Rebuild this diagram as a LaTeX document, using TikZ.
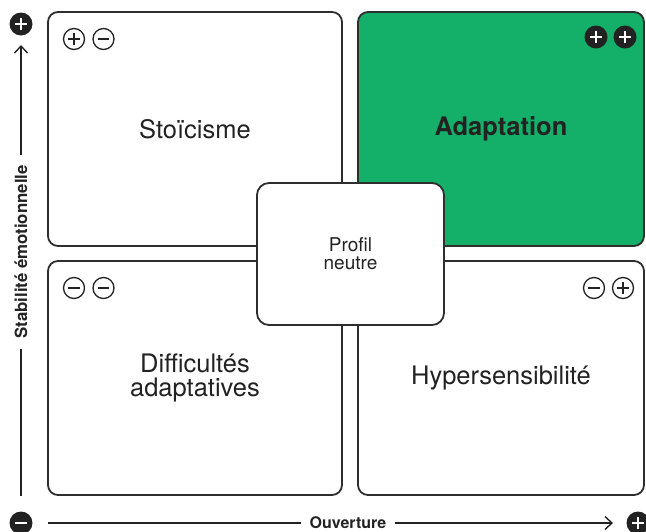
\documentclass[tikz,border=0pt]{standalone}
\usepackage{fontspec}
\setmainfont{TeX Gyre Heros}
\usetikzlibrary{arrows.meta}
\definecolor{ink}{HTML}{222222}
\definecolor{edge}{HTML}{2E2E2E}
\definecolor{leaf}{RGB}{20,175,105}
\begin{document}
\begin{tikzpicture}[x=1pt,y=-1pt,
 quad/.style={draw=edge, line width=1.8pt, rounded corners=10pt, inner sep=0pt},
 qtext/.style={text=ink, font=\fontsize{25.5}{24}\selectfont, align=center},
 symc/.style={circle, draw=ink, line width=1.3pt, minimum size=21pt, inner sep=0pt},
 symf/.style={circle, fill=ink, minimum size=23pt, inner sep=0pt},
 plusmark/.style 2 args={path picture={\draw[line width=#2,#1]
   ([xshift=-5.8pt]path picture bounding box.center) -- ([xshift=5.8pt]path picture bounding box.center)
   ([yshift=-5.8pt]path picture bounding box.center) -- ([yshift=5.8pt]path picture bounding box.center);}},
 minusmark/.style 2 args={path picture={\draw[line width=#2,#1]
   ([xshift=-5.8pt]path picture bounding box.center) -- ([xshift=5.8pt]path picture bounding box.center);}},
 axis/.style={draw=ink, line width=1.4pt},
 axtip/.style={-{Straight Barb[length=7pt,width=13pt]}},
 axlab/.style={text=ink, font=\fontsize{16}{18}\bfseries\selectfont, inner ysep=0pt}
]
\useasboundingbox (0,0) rectangle (646,531);
% quadrants
\node[quad, qtext, minimum width=294pt, minimum height=234pt] (tl) at (195,129) {Stoïcisme};
\node[quad, qtext, fill=leaf, minimum width=286pt, minimum height=234pt] (tr) at (501,129) {\bfseries Adaptation};
\node[quad, qtext, minimum width=294pt, minimum height=234pt] (bl) at (195,378) {Difficultés\\adaptatives};
\node[quad, qtext, minimum width=286pt, minimum height=234pt] (br) at (501,378) {Hypersensibilité};
% centre
\node[quad, fill=white, rounded corners=12pt, minimum width=187pt, minimum height=142pt,
      text=ink, font=\fontsize{19}{18}\selectfont, align=center] (ce) at (350.5,254) {Profil\\neutre};
% quadrant symbols
\node[symc, plusmark={ink}{1.5pt}] (tls1) at (74,39) {};
\node[symc, minusmark={ink}{1.5pt}] (tls2) at (103.5,39) {};
\node[symf, plusmark={white}{2.2pt}] (trs1) at (596,37) {};
\node[symf, plusmark={white}{2.2pt}] (trs2) at (625,37) {};
\node[symc, minusmark={ink}{1.5pt}] (bls1) at (74,288) {};
\node[symc, minusmark={ink}{1.5pt}] (bls2) at (103.5,288) {};
\node[symc, minusmark={ink}{1.5pt}] (brs1) at (594,288) {};
\node[symc, plusmark={ink}{1.5pt}] (brs2) at (623,288) {};
% vertical axis
\node[symf, plusmark={white}{2.2pt}] (yplus) at (21,24) {};
\coordinate (ytip) at (21,45);
\coordinate (ybot) at (21,496);
\node[axlab, font=\fontsize{16.8}{18}\bfseries\selectfont, rotate=90, inner xsep=10pt] (ylab) at (21,252) {Stabilité émotionnelle};
\draw[axis] (ybot) -- (ylab.west);
\draw[axis, axtip] (ylab.east) -- (ytip);
% horizontal axis
\node[symf, minusmark={white}{2.2pt}] (xminus) at (21,523) {};
\node[symf, plusmark={white}{2.2pt}] (xplus) at (638,523) {};
\coordinate (xstart) at (48,523);
\coordinate (xtip) at (613,523);
\node[axlab, inner xsep=8.5pt] (xlab) at (348,523) {Ouverture};
\draw[axis] (xstart) -- (xlab.west);
\draw[axis, axtip] (xlab.east) -- (xtip);
\end{tikzpicture}
\end{document}
